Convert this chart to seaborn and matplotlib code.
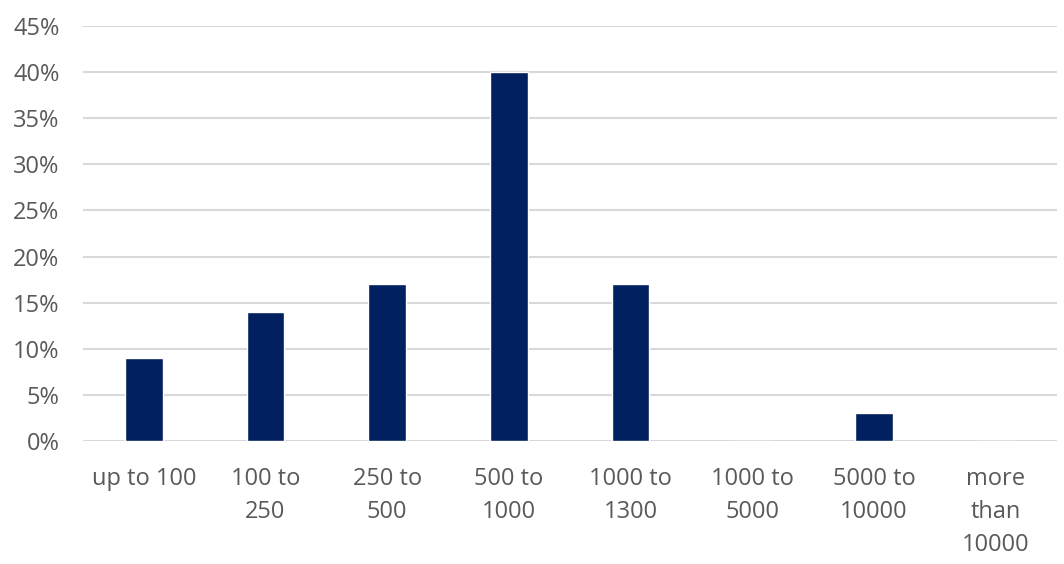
import matplotlib
matplotlib.use("Agg")
import matplotlib.pyplot as plt
import seaborn as sns
import pandas as pd

# categories and shares (%)
categories = ["up to 100", "100 to\n250", "250 to\n500", "500 to\n1000",
              "1000 to\n1300", "1000 to\n5000", "5000 to\n10000", "more\nthan\n10000"]
shares = [9, 14, 17, 40, 17, 0, 3, 0]
y_ticks = [0, 5, 10, 15, 20, 25, 30, 35, 40, 45]

df = pd.DataFrame({"category": categories, "share": shares})

sns.set_theme(style="white")
plt.rcParams["font.family"] = ["Open Sans", "DejaVu Sans"]

fig = plt.figure(figsize=(10.64, 5.64), dpi=100)
ax = fig.add_axes([0.078, 0.218, 0.915, 0.736])

sns.barplot(data=df, x="category", y="share", color="#002060",
            width=0.31, saturation=1, ax=ax, zorder=3)

ax.set_ylim(0, 45)
ax.set_yticks(y_ticks)
ax.set_yticklabels([f"{t}%" for t in y_ticks])
ax.yaxis.grid(True, color="#d9d9d9", linewidth=1.5, zorder=0)
ax.set_axisbelow(True)
ax.set_xlabel("")
ax.set_ylabel("")
sns.despine(ax=ax, left=True, bottom=True)

ax.tick_params(axis="y", length=0, pad=17, labelsize=17, labelcolor="#595959")
ax.tick_params(axis="x", length=0, pad=19, labelsize=17, labelcolor="#595959")
for lbl in ax.get_xticklabels():
    lbl.set_linespacing(1.48)
    lbl.set_verticalalignment("top")

fig.savefig("out.png", dpi=100)
